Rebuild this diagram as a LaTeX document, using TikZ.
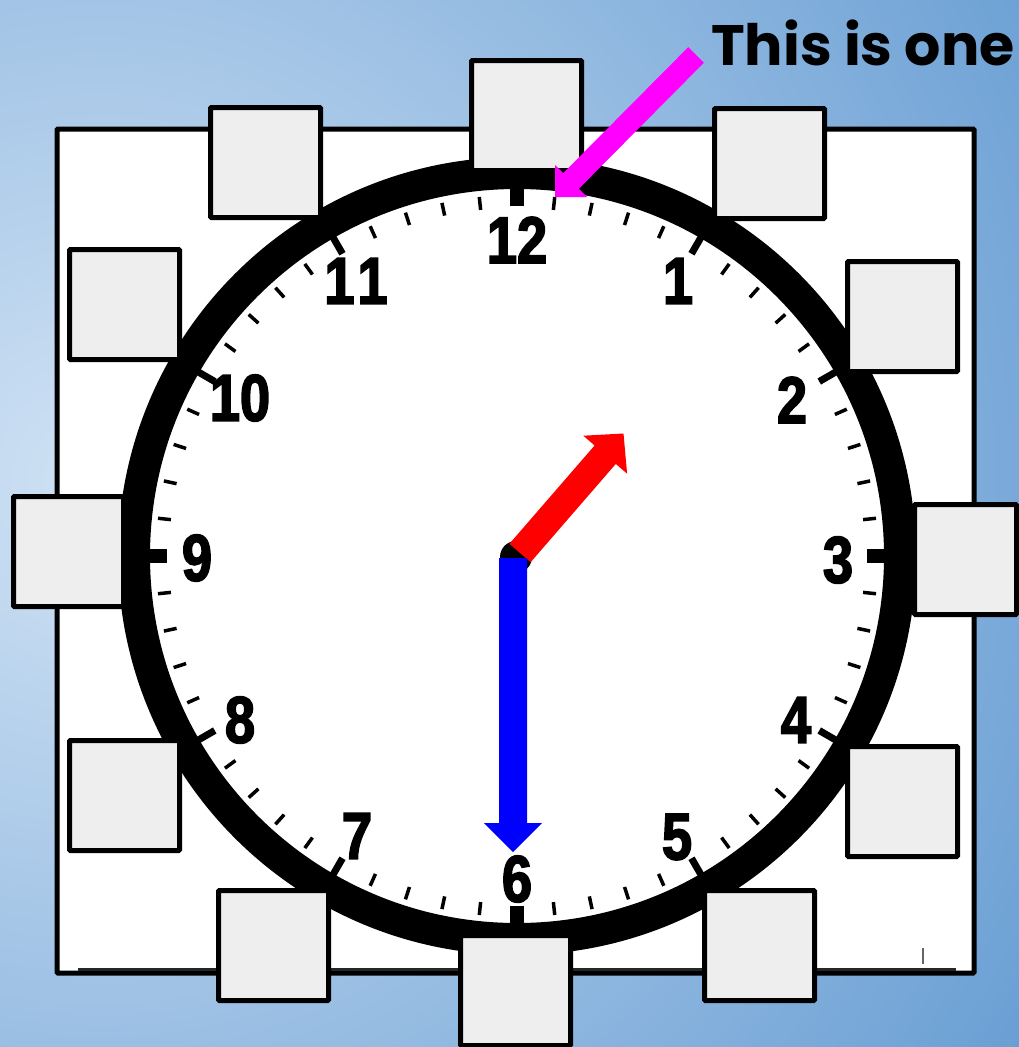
\documentclass[tikz,border=0pt]{standalone}
\usepackage{fontspec}
\newfontfamily\numfont{Liberation Sans}[BoldFeatures={FakeBold=2.5,FakeStretch=0.82}]
\newfontfamily\titlefont{Poppins}
\definecolor{boxfill}{HTML}{EEEEEE}
\definecolor{bginner}{HTML}{D0E2F4}
\definecolor{bgouter}{HTML}{6A9FD4}
\definecolor{pinkarrow}{HTML}{FF00FF}
\tikzset{
  ansbox/.style={draw=black, fill=boxfill, line width=5pt, minimum width=110pt, minimum height=110pt, inner sep=0pt, rounded corners=1pt},
  hournum/.style={inner sep=0pt, font=\numfont\bfseries\fontsize{66}{66}\selectfont},
  minortick/.style={line width=3.5pt},
  hourtick/.style={line width=7pt},
  quartertick/.style={line width=14pt},
}
\begin{document}
\begin{tikzpicture}[x=1pt,y=-1pt]
\useasboundingbox (0,0) rectangle (1019,1047);
\clip (0,0) rectangle (1019,1047);
% background
\shade[inner color=bginner, outer color=bgouter] (100,480) circle[radius=1080pt];
% white frame
\draw[line width=5pt, fill=white, rounded corners=1pt] (57,129) rectangle (974,973);
\draw[black!85, line width=3pt] (78,969.5) -- (956,969.5);
\draw[black!60, line width=2pt] (923,948) -- (923,964);
% clock ring
\fill[white] (517,556) circle[radius=368pt];
\draw[line width=32pt] (517,556) circle[radius=383pt];
% minute ticks
\foreach \h in {0,...,11}{
  \foreach \k in {1,...,4}{
    \pgfmathsetmacro\a{30*\h+6*\k}
    \draw[minortick] ({517+348*sin(\a)},{556-348*cos(\a)}) -- ({517+361*sin(\a)},{556-361*cos(\a)});
  }
}
% hour ticks
\foreach \h in {1,2,4,5,7,8,10,11}{
  \pgfmathsetmacro\a{30*\h}
  \draw[hourtick] ({517+349*sin(\a)},{556-349*cos(\a)}) -- ({517+372*sin(\a)},{556-372*cos(\a)});
}
\foreach \a in {0,90,180,270}{
  \draw[quartertick] ({517+350*sin(\a)},{556-350*cos(\a)}) -- ({517+372*sin(\a)},{556-372*cos(\a)});
}
% numbers
\node[hournum] (n12) at (517,240) {12};
\node[hournum] (n1) at (678,281) {1};
\node[hournum] (n2) at (792,400) {2};
\node[hournum] (n3) at (838,560) {3};
\node[hournum] (n4) at (796,720) {4};
\node[hournum] (n5) at (677,837) {5};
\node[hournum] (n6) at (517,879) {6};
\node[hournum] (n7) at (357,836) {7};
\node[hournum] (n8) at (240,720) {8};
\node[hournum] (n9) at (197,558) {9};
\node[hournum] (n10) at (240,398) {10};
\node[hournum] (n11) at (356,281) {1\kern3pt1};
% hands
\fill[black] (516,557) circle[radius=16pt];
\fill[red] (530.6,562.2) -- (509.4,543.8) -- (594.6,445.5) -- (583.3,435.7) -- (623.5,433.5) -- (627.1,473.7) -- (615.8,463.9) -- cycle;
\fill[blue] (499,558) -- (527,558) -- (527,823) -- (542,823) -- (513,852) -- (484,823) -- (499,823) -- cycle;
% answer boxes
\node[ansbox] (b12) at (526.5,115.5) {};
\node[ansbox] (b1) at (769.5,163.5) {};
\node[ansbox] (b2) at (902.5,316.5) {};
\node[ansbox, minimum width=102pt] (b3) at (965.5,559.5) {};
\node[ansbox] (b4) at (902.5,801.5) {};
\node[ansbox] (b5) at (759.5,945.5) {};
\node[ansbox] (b6) at (515.5,990.5) {};
\node[ansbox] (b7) at (273.5,945.5) {};
\node[ansbox] (b8) at (124.5,795.5) {};
\node[ansbox] (b9) at (68.5,551.5) {};
\node[ansbox] (b10) at (124.5,304.5) {};
\node[ansbox] (b11) at (265.5,162.5) {};
% pointer arrow and label
\fill[pinkarrow] (703.8,62.8) -- (688.2,47.2) -- (563.2,173.2) -- (555,165) -- (555,197) -- (587,197) -- (578.8,188.8) -- cycle;
\node[anchor=base west, inner sep=0pt, font=\titlefont\bfseries\fontsize{57}{57}\selectfont] (label) at (711,65) {This is one};
\end{tikzpicture}
\end{document}
